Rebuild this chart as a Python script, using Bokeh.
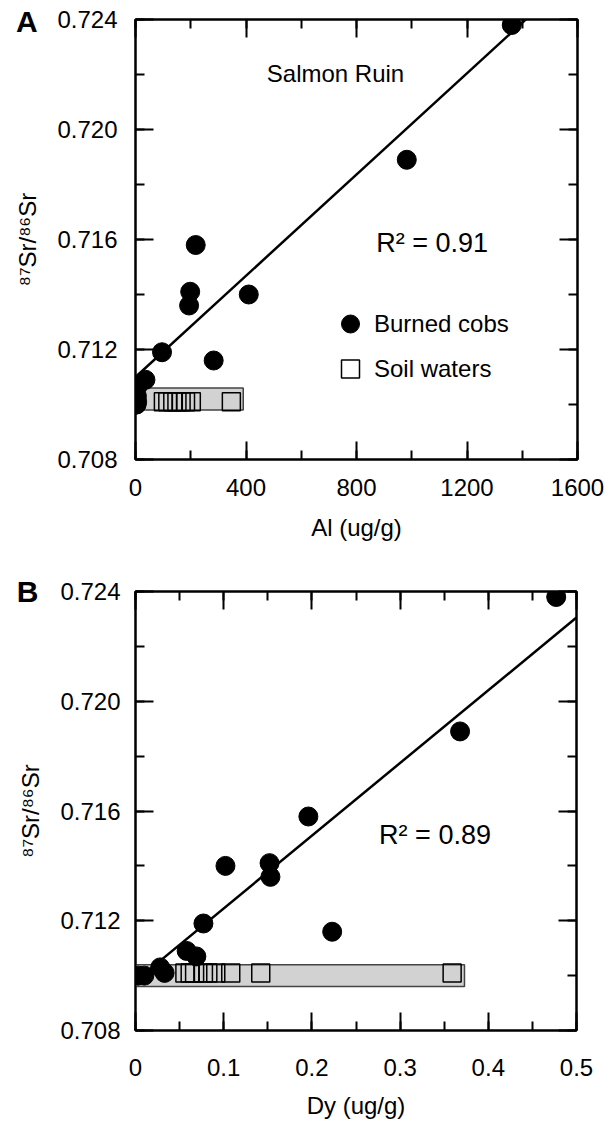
from bokeh.plotting import figure
from bokeh.models import (LinearAxis, FixedTicker, Range1d, Label, Legend, LegendItem,
                          PrintfTickFormatter, CustomJSTickFormatter)
from bokeh.layouts import column
from bokeh.embed import file_html
from bokeh.resources import INLINE

FONT = "Liberation Sans"

# ---------------- Panel A : Al vs 87Sr/86Sr ----------------
cob_al = [1362, 982, 218, 198, 410, 194, 96, 283, 36, 10, 5, 6, 2, 4]
cob_sr_a = [0.7238, 0.7189, 0.7158, 0.7141, 0.7140, 0.7136, 0.7119, 0.7116,
            0.7109, 0.7107, 0.7103, 0.7101, 0.7100, 0.7100]
soil_al = [101, 117, 135, 150, 165, 181, 202, 347]
soil_sr_a = [0.7101, 0.7101, 0.7101, 0.7101, 0.7101, 0.7101, 0.7101, 0.7101]
soil_box_al = [0, 390]
soil_box_sr_a = [0.7098, 0.7106]
fit_al = [0, 1430]
fit_sr_a = [0.7110, 0.72416]

# ---------------- Panel B : Dy vs 87Sr/86Sr ----------------
cob_dy = [0.477, 0.368, 0.196, 0.102, 0.152, 0.153, 0.077, 0.223, 0.058, 0.069,
          0.028, 0.033, 0.003, 0.010]
cob_sr_b = [0.7238, 0.7189, 0.7158, 0.7140, 0.7141, 0.7136, 0.7119, 0.7116,
            0.7109, 0.7107, 0.7103, 0.7101, 0.7100, 0.7100]
soil_dy = [0.056, 0.062, 0.067, 0.077, 0.082, 0.091, 0.108, 0.142, 0.359]
soil_sr_b = [0.7101, 0.7101, 0.7101, 0.7101, 0.7101, 0.7101, 0.7101, 0.7101, 0.7101]
soil_box_dy = [0, 0.373]
soil_box_sr_b = [0.7096, 0.7104]
fit_dy = [0, 0.5]
fit_sr_b = [0.7098, 0.72305]

# ---------------- ticks ----------------
sr_major = [0.708, 0.712, 0.716, 0.720, 0.724]
sr_minor = [0.708, 0.710, 0.712, 0.714, 0.716, 0.718, 0.720, 0.722, 0.724]
al_major = [0, 400, 800, 1200, 1600]
al_minor = [0, 200, 400, 600, 800, 1000, 1200, 1400, 1600]
dy_major = [0, 0.1, 0.2, 0.3, 0.4, 0.5]
dy_minor = [0, 0.05, 0.1, 0.15, 0.2, 0.25, 0.3, 0.35, 0.4, 0.45, 0.5]

Y_TITLE = "\u2078\u2077Sr/\u2078\u2076Sr"


def style_axis(ax, major, minor, show_labels, label_standoff=15):
    ax.ticker = FixedTicker(ticks=major, minor_ticks=minor)
    ax.major_tick_in = 18
    ax.major_tick_out = 0
    ax.minor_tick_in = 9
    ax.minor_tick_out = 0
    ax.axis_line_color = "black"
    ax.axis_line_width = 2
    ax.major_tick_line_color = "black"
    ax.major_tick_line_width = 2
    ax.minor_tick_line_color = "black"
    ax.minor_tick_line_width = 2
    ax.major_label_text_font = FONT
    ax.major_label_text_color = "black"
    if show_labels:
        ax.major_label_text_font_size = "24px"
        ax.major_label_standoff = label_standoff
    else:
        ax.formatter = CustomJSTickFormatter(code="return '';")
        ax.major_label_text_font_size = "8px"
        ax.major_label_standoff = 0
    ax.axis_label_text_font = FONT
    ax.axis_label_text_font_size = "24px"
    ax.axis_label_text_font_style = "normal"
    ax.axis_label_text_color = "black"


def make_panel(xr, xmajor, xminor, xfmt, xtitle, fw, fh, left, top, right, bottom,
               ylab_standoff, xlab_standoff, xtitle_standoff):
    p = figure(frame_width=fw, frame_height=fh, x_range=xr,
               y_range=Range1d(0.708, 0.724), output_backend="svg",
               toolbar_location=None, min_border_left=left, min_border_top=top,
               min_border_right=right, min_border_bottom=bottom)
    p.background_fill_color = "white"
    p.border_fill_color = "white"
    p.outline_line_color = "black"
    p.outline_line_width = 2
    p.grid.visible = False

    bx = p.xaxis[0]
    style_axis(bx, xmajor, xminor, True, xlab_standoff)
    bx.formatter = xfmt
    bx.axis_label = xtitle
    bx.axis_label_standoff = xtitle_standoff

    ly = p.yaxis[0]
    style_axis(ly, sr_major, sr_minor, True, ylab_standoff)
    ly.formatter = PrintfTickFormatter(format="%.3f")
    ly.axis_label = Y_TITLE
    ly.axis_label_standoff = 13

    tx = LinearAxis()
    style_axis(tx, xmajor, xminor, False)
    p.add_layout(tx, "above")
    ry = LinearAxis()
    style_axis(ry, sr_major, sr_minor, False)
    p.add_layout(ry, "right")
    return p


def text_label(x, y, text, size, bold=False):
    return Label(x=x, y=y, text=text, text_font=FONT, text_font_size=size,
                 text_font_style="bold" if bold else "normal", text_color="black",
                 text_align="center", text_baseline="middle")


# ---------------- figure A ----------------
pA = make_panel(Range1d(0, 1600), al_major, al_minor, PrintfTickFormatter(format="%d"),
                "Al (ug/g)", 442, 440, 135, 19, 34, 101, 18, 19, 15)

pA.quad(left=soil_box_al[0], right=soil_box_al[1], bottom=soil_box_sr_a[0],
        top=soil_box_sr_a[1], fill_color="#d2d2d2", line_color="#444444", line_width=1.5)
rA_soil = pA.scatter(soil_al, soil_sr_a, marker="square", size=18, fill_alpha=0,
                     line_color="black", line_width=1.5)
pA.line(fit_al, fit_sr_a, line_color="black", line_width=2.5)
rA_cob = pA.scatter(cob_al, cob_sr_a, marker="circle", size=19, fill_color="black",
                    line_color="black")

pA.add_layout(text_label(724, 0.72204, "Salmon Ruin", "24px"))
pA.add_layout(text_label(1074, 0.71587, "R\u00b2 = 0.91", "27px"))
legA = Legend(items=[LegendItem(label="Burned cobs", renderers=[rA_cob]),
                     LegendItem(label="Soil waters", renderers=[rA_soil])],
              location=(191, 68), glyph_width=48, glyph_height=45, spacing=0,
              padding=0, margin=0, label_standoff=0, border_line_color=None,
              background_fill_alpha=0, label_text_font=FONT, label_text_color="black",
              label_text_font_size="24px", label_text_baseline="middle")
pA.add_layout(legA)
# panel letter: placed in a side panel so it is not clipped to the frame
pA.add_layout(text_label(-393, 0.72393, "A", "30px", bold=True), "right")

# ---------------- figure B ----------------
dy_fmt = CustomJSTickFormatter(code="return String(tick);")
pB = make_panel(Range1d(0, 0.5), dy_major, dy_minor, dy_fmt,
                "Dy (ug/g)", 441, 439, 133, 31, 37, 91, 15, 28, 13)

pB.quad(left=soil_box_dy[0], right=soil_box_dy[1], bottom=soil_box_sr_b[0],
        top=soil_box_sr_b[1], fill_color="#d2d2d2", line_color="#444444", line_width=1.5)
pB.scatter(soil_dy, soil_sr_b, marker="square", size=18, fill_alpha=0,
           line_color="black", line_width=1.5)
pB.line(fit_dy, fit_sr_b, line_color="black", line_width=2.5)
pB.scatter(cob_dy, cob_sr_b, marker="circle", size=19, fill_color="black",
           line_color="black")
pB.add_layout(text_label(0.3396, 0.71513, "R\u00b2 = 0.89", "27px"))
pB.add_layout(text_label(-0.1224, 0.724, "B", "30px", bold=True), "right")

layout = column(pA, pB, spacing=0)
open("out.html", "w").write(file_html(layout, INLINE))
